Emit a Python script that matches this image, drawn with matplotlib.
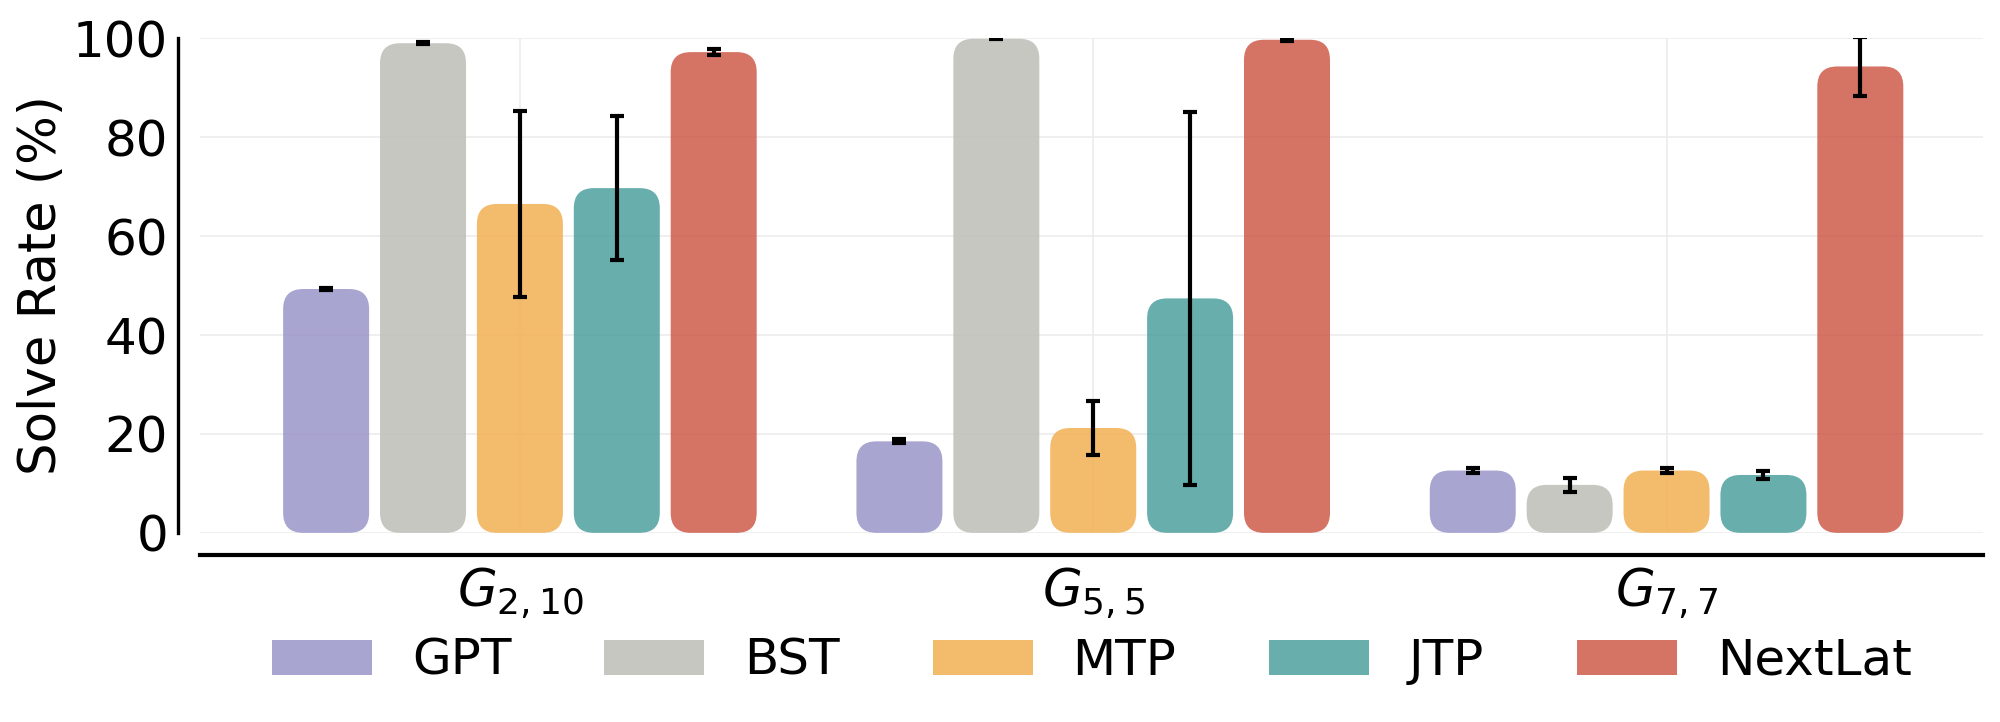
import numpy as np
import matplotlib.pyplot as plt
from matplotlib.patches import FancyBboxPatch, Patch

# datos
grupos = [r"$G_{2,10}$", r"$G_{5,5}$", r"$G_{7,7}$"]
modelos = ["GPT", "BST", "MTP", "JTP", "NextLat"]
colores = ["#9995C8", "#BEBDB7", "#F2B052", "#4DA09F", "#CE5A4A"]

gpt = [49.3, 18.5, 12.6]
gpt_err = [0.3, 0.4, 0.5]
bst = [99.0, 99.9, 9.7]
bst_err = [0.2, 0.1, 1.4]
mtp = [66.5, 21.2, 12.6]
mtp_err = [18.8, 5.4, 0.5]
jtp = [69.7, 47.4, 11.7]
jtp_err = [14.6, 37.7, 0.8]
nextlat = [97.2, 99.7, 94.3]
nextlat_err = [0.6, 0.2, 6.0]

valores = [gpt, bst, mtp, jtp, nextlat]
errores = [gpt_err, bst_err, mtp_err, jtp_err, nextlat_err]
ALPHA = 0.85

fig = plt.figure(figsize=(10, 3.61), dpi=200)
ax = fig.add_axes([0.1, 0.262, 0.8915, 0.685])
ax.set_xlim(-0.558, 2.552)
ax.set_ylim(0, 100)

paso = 0.169
ancho = 0.15
x = np.arange(len(grupos))

# radio de esquina en pixeles -> unidades de datos
px_x = ax.bbox.width / (ax.get_xlim()[1] - ax.get_xlim()[0])
px_y = ax.bbox.height / (ax.get_ylim()[1] - ax.get_ylim()[0])
radio = 20 / px_x
aspecto = px_x / px_y

for i, (vals, errs) in enumerate(zip(valores, errores)):
    pos = x + (i - 2) * paso
    for xi, v in zip(pos, vals):
        r = min(radio, (v / aspecto) / 2)
        caja = FancyBboxPatch((xi - ancho / 2, 0), ancho, v,
                              boxstyle=f"round,pad=0,rounding_size={r}",
                              mutation_aspect=aspecto, facecolor=colores[i],
                              edgecolor="none", alpha=ALPHA, zorder=2)
        ax.add_patch(caja)
    ax.errorbar(pos, vals, yerr=errs, fmt="none", ecolor="black",
                elinewidth=1.5, capsize=2.5, capthick=1.5, zorder=3)

ax.set_xticks(x)
ax.set_xticklabels(grupos)
ax.set_yticks([0, 20, 40, 60, 80, 100])
ax.tick_params(axis="y", labelsize=18, length=0, pad=3.5)
ax.tick_params(axis="x", labelsize=18.5, length=0, pad=4)
ax.set_ylabel("Solve Rate (%)", fontsize=18.5, labelpad=2)

ax.grid(True, color="#ececec", linewidth=0.6, zorder=0)
ax.set_axisbelow(True)
for s in ["top", "right"]:
    ax.spines[s].set_visible(False)
ax.spines["left"].set_position(("outward", 8))
ax.spines["bottom"].set_position(("outward", 8))
ax.spines["left"].set_linewidth(1.2)
ax.spines["bottom"].set_linewidth(1.5)

handles = [Patch(facecolor=c, alpha=ALPHA, edgecolor="none") for c in colores]
fig.legend(handles, modelos, loc="center", bbox_to_anchor=(0.546, 0.085),
           ncol=5, frameon=False, fontsize=18, handlelength=2.0,
           handletextpad=0.8, columnspacing=1.85)

fig.savefig("out.png", dpi=200)
